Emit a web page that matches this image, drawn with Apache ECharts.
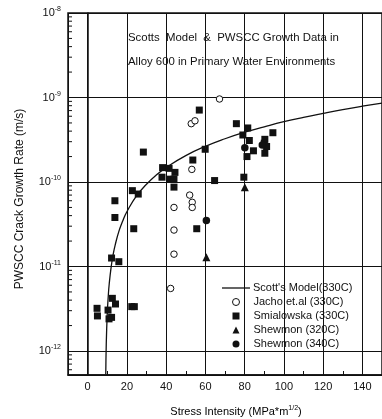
<!DOCTYPE html>
<html><head><meta charset="utf-8">
<script src="https://cdn.jsdelivr.net/npm/echarts@6/dist/echarts.min.js"></script>
<style>html,body{margin:0;padding:0;background:#fff}#c{width:382px;height:419px}</style>
</head><body><div id="c"></div>
<script>
const titleLines = ['Scotts  Model  &  PWSCC Growth Data in', 'Alloy 600 in Primary Water Environments'];
const xTickLabels = ['0','20','40','60','80','100','120','140'];
const yTickExponents = [-12,-11,-10,-9,-8];
const seriesNames = ["Scott's Model(330C)", 'Jacho et.al (330C)', 'Smialowska (330C)', 'Shewmon (320C)', 'Shewmon (340C)'];

const scottModel = [
 [9.25,5.3e-13],[9.5,1.23e-12],[10,2.76e-12],[10.5,4.4e-12],[11,6.2e-12],[12,9.9e-12],[13,1.38e-11],
 [14,1.78e-11],[16,2.64e-11],[18,3.5e-11],[20,4.45e-11],[25,6.9e-11],[30,9.4e-11],[35,1.21e-10],
 [40,1.48e-10],[50,2.05e-10],[60,2.64e-10],[70,3.25e-10],[80,3.88e-10],[90,4.5e-10],[100,5.17e-10],
 [110,5.83e-10],[120,6.5e-10],[130,7.2e-10],[140,7.9e-10],[150,8.6e-10]
];
const jacho = [
 [67.2,9.6e-10],[52.8,4.9e-10],[54.7,5.3e-10],[53.1,1.41e-10],[52,7.0e-11],[53.3,5.75e-11],
 [53.3,5.0e-11],[44,5.0e-11],[44,2.7e-11],[44,1.4e-11],[42.3,5.5e-12]
];
const smialowska = [
 [13.9,6.0e-11],[13.9,3.8e-11],[22.8,7.9e-11],[25.8,7.2e-11],[23.5,2.8e-11],[12.2,1.26e-11],[15.9,1.14e-11],[28.4,2.26e-10],
 [12.6,4.2e-12],[14.2,3.6e-12],[4.8,3.2e-12],[5.0,2.6e-12],[10.4,3.05e-12],[10.9,2.4e-12],[12.2,2.5e-12],[22.5,3.35e-12],[23.8,3.35e-12],
 [56.9,7.1e-10],[59.9,2.44e-10],[53.6,1.82e-10],[64.7,1.04e-10],[38.2,1.48e-10],[41.5,1.45e-10],[44.5,1.3e-10],[37.9,1.14e-10],
 [42.0,1.08e-10],[44.0,1.08e-10],[44.0,8.7e-11],[55.6,2.8e-11],
 [75.8,4.9e-10],[81.6,4.36e-10],[79.1,3.6e-10],[94.4,3.83e-10],[82.4,3.1e-10],[84.5,2.34e-10],[81.2,2.0e-10],
 [90.3,3.2e-10],[90,2.88e-10],[91.2,2.63e-10],[90.3,2.19e-10],[79.6,1.14e-10]
];
const shewmon320 = [[60.5,1.29e-11],[80.1,8.65e-11]];
const shewmon340 = [[60.5,3.5e-11],[80.1,2.55e-10],[89,2.75e-10]];

const X_MIN = -10, X_MAX = 150, Y_MIN = 5.2e-13, Y_MAX = 1e-8;
const FONT = '"Liberation Sans", Arial, sans-serif';
const INK = '#111';

// minor log ticks along the left axis (axis decoration)
const minorTickVals = [];
for (let e = -13; e <= -9; e++) for (let m = 2; m <= 9; m++) {
  const v = m * Math.pow(10, e);
  if (v > Y_MIN && v < Y_MAX) minorTickVals.push([X_MIN, v]);
}

const legendText = {fontSize: 11, fontFamily: FONT, color: INK, lineHeight: 12};

const chart = echarts.init(document.getElementById('c'), null, {renderer: 'canvas'});
chart.setOption({
  animation: false,
  backgroundColor: '#fff',
  grid: {left: 68, top: 13, width: 322, height: 362, show: true, borderColor: INK, borderWidth: 1.5, backgroundColor: 'transparent'},
  xAxis: {
    type: 'value', min: X_MIN, max: X_MAX, splitNumber: 8,
    axisLine: {show: true, lineStyle: {color: INK, width: 1.5}},
    axisTick: {show: true, inside: true, length: 5, lineStyle: {color: INK}},
    minorTick: {show: true, splitNumber: 2, length: 4, lineStyle: {color: INK}},
    splitLine: {show: true, lineStyle: {color: INK, width: 1}},
    axisLabel: {
      margin: 6, color: INK, fontSize: 11, fontFamily: FONT,
      showMinLabel: false, showMaxLabel: false,
      formatter: v => { const i = xTickLabels.indexOf(String(v)); return i >= 0 ? xTickLabels[i] : ''; }
    }
  },
  yAxis: {
    type: 'log', logBase: 10, min: Y_MIN, max: Y_MAX,
    axisLine: {show: true, lineStyle: {color: INK, width: 1.5}},
    axisTick: {show: false},
    splitLine: {show: true, lineStyle: {color: INK, width: 1}},
    axisLabel: {
      margin: 7, color: INK, fontFamily: FONT,
      showMinLabel: false,
      formatter: v => {
        const e = Math.log10(v);
        const r = Math.round(e);
        if (Math.abs(e - r) > 1e-6 || yTickExponents.indexOf(r) < 0) return '';
        return '{b|10}{s|' + r + '}';
      },
      rich: {
        b: {fontSize: 11, fontFamily: FONT, color: INK},
        s: {fontSize: 7, fontFamily: FONT, color: INK, padding: [0, 0, 7, 0]}
      }
    }
  },
  legend: [
    {
      orient: 'vertical', left: 222, top: 282, padding: 0,
      itemWidth: 28, itemHeight: 1.3, symbolKeepAspect: false,
      textStyle: Object.assign({padding: [0, 0, 0, -2]}, legendText),
      data: [{name: seriesNames[0], icon: 'rect', itemStyle: {color: INK}}],
      selectedMode: false
    },
    {
      orient: 'vertical', left: 232, top: 296, padding: 0,
      itemWidth: 7, itemHeight: 7, itemGap: 2,
      textStyle: Object.assign({padding: [0, 0, 0, 9]}, legendText),
      data: [
        {name: seriesNames[1], icon: 'circle', itemStyle: {color: '#fff', borderColor: INK, borderWidth: 1}},
        {name: seriesNames[2], icon: 'rect'},
        {name: seriesNames[3], icon: 'triangle'},
        {name: seriesNames[4], icon: 'circle'}
      ],
      selectedMode: false
    }
  ],
  graphic: [
    {type: 'text', x: 128, y: 38, silent: true,
     style: {text: titleLines[0], font: '11.4px ' + FONT, fill: INK, verticalAlign: 'middle'}},
    {type: 'text', x: 128, y: 62, silent: true,
     style: {text: titleLines[1], font: '11.4px ' + FONT, fill: INK, verticalAlign: 'middle'}},
    {type: 'text', x: 20, y: 199, rotation: Math.PI / 2, silent: true,
     style: {text: 'PWSCC Crack Growth Rate (m/s)', font: '12px ' + FONT, fill: INK, align: 'center', verticalAlign: 'middle'}},
    {type: 'text', x: 236, y: 412, silent: true,
     style: {text: '{a|Stress Intensity (MPa*m}{s|1/2}{a|)}', align: 'center', verticalAlign: 'middle',
       rich: {a: {fontSize: 11, fontFamily: FONT, color: INK}, s: {fontSize: 7, fontFamily: FONT, color: INK, padding: [0, 0, 7, 0]}}}}
  ],
  series: [
    {name: seriesNames[0], type: 'line', data: scottModel, smooth: true, symbol: 'none',
     lineStyle: {color: INK, width: 1.3}, itemStyle: {color: INK}, z: 3},
    {name: seriesNames[1], type: 'scatter', data: jacho, symbol: 'circle', symbolSize: 6.5,
     itemStyle: {color: '#fff', borderColor: INK, borderWidth: 1, opacity: 1}, z: 4},
    {name: seriesNames[2], type: 'scatter', data: smialowska, symbol: 'rect', symbolSize: 7,
     itemStyle: {color: INK, opacity: 1}, z: 4},
    {name: seriesNames[3], type: 'scatter', data: shewmon320, symbol: 'triangle', symbolSize: 8,
     itemStyle: {color: INK, opacity: 1}, z: 4},
    {name: seriesNames[4], type: 'scatter', data: shewmon340, symbol: 'circle', symbolSize: 7.5,
     itemStyle: {color: INK, opacity: 1}, z: 4},
    {type: 'custom', name: 'minorTicks', silent: true, data: minorTickVals, encode: {x: 0, y: 1}, z: 2,
     renderItem: (params, api) => {
       const p = api.coord([api.value(0), api.value(1)]);
       return {type: 'line', shape: {x1: p[0], y1: p[1], x2: p[0] + 4, y2: p[1]}, style: {stroke: INK, lineWidth: 1}};
     }}
  ]
});
</script>
</body></html>
